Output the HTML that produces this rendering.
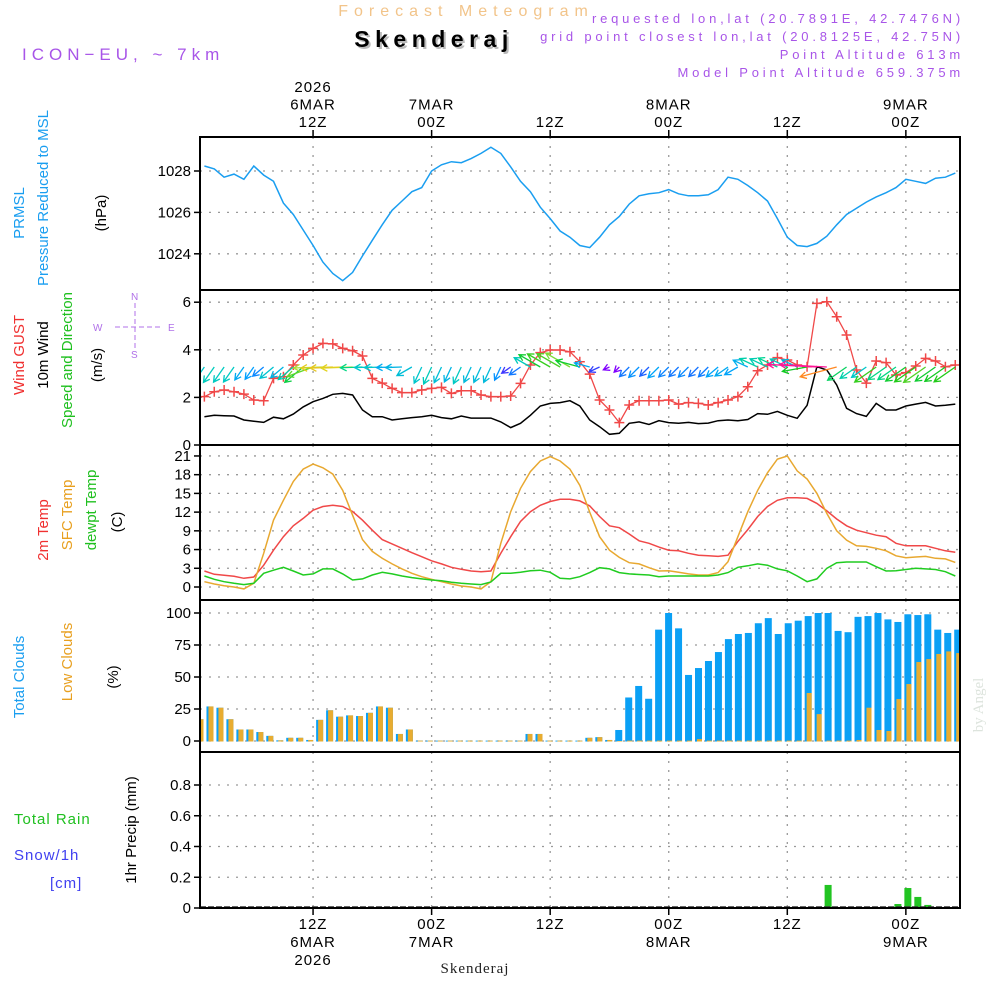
<!DOCTYPE html>
<html><head><meta charset="utf-8">
<style>
html,body{margin:0;padding:0;background:#fff;}
svg{display:block;font-family:"Liberation Sans",sans-serif;}
</style></head>
<body>
<svg id="chart" width="1000" height="1000" viewBox="0 0 1000 1000" xmlns="http://www.w3.org/2000/svg">
<defs>
<clipPath id="cp1"><rect x="200" y="137" width="760" height="153"/></clipPath>
<clipPath id="cp2"><rect x="200" y="290" width="760" height="155"/></clipPath>
<clipPath id="cp3"><rect x="200" y="445" width="760" height="155"/></clipPath>
<clipPath id="cp4"><rect x="200" y="600" width="760" height="152"/></clipPath>
<clipPath id="cp5"><rect x="200" y="752" width="760" height="156"/></clipPath>
</defs>
<text x="466" y="16" text-anchor="middle" font-size="16" fill="#f2c48a" letter-spacing="6">Forecast Meteogram</text>
<text x="436" y="49" text-anchor="middle" font-size="23" font-weight="bold" fill="#bbb" letter-spacing="5.5">Skenderaj</text>
<text x="434" y="47" text-anchor="middle" font-size="23" font-weight="bold" fill="#000" letter-spacing="5.5">Skenderaj</text>
<text x="22" y="60" font-size="17" fill="#a855e8" letter-spacing="5">ICON−EU, ~ 7km</text>
<g font-size="13" fill="#a855e8" text-anchor="end" letter-spacing="3.8">
<text x="964" y="23">requested lon,lat (20.7891E, 42.7476N)</text>
<text x="964" y="41">grid point closest lon,lat (20.8125E, 42.75N)</text>
<text x="964" y="59">Point Altitude 613m</text>
<text x="964" y="77">Model Point Altitude 659.375m</text>
</g>
<g id="grid"></g>
<g id="marks"></g>
<g id="frames" fill="none" stroke="#000" stroke-width="2">
<rect x="200" y="137" width="760" height="771"/>
<line x1="200" y1="290" x2="960" y2="290"/>
<line x1="200" y1="445" x2="960" y2="445"/>
<line x1="200" y1="600" x2="960" y2="600"/>
<line x1="200" y1="752" x2="960" y2="752"/>
</g>
<g id="axes" font-size="15" fill="#000"></g>
<g font-size="15">
<text transform="translate(24,213) rotate(-90)" text-anchor="middle" fill="#1a9ef0">PRMSL</text>
<text transform="translate(48,198) rotate(-90)" text-anchor="middle" fill="#1a9ef0">Pressure Reduced to MSL</text>
<text transform="translate(106,213) rotate(-90)" text-anchor="middle" fill="#000">(hPa)</text>
<text transform="translate(24,355) rotate(-90)" text-anchor="middle" fill="#f03030">Wind GUST</text>
<text transform="translate(48,355) rotate(-90)" text-anchor="middle" fill="#000">10m Wind</text>
<text transform="translate(72,360) rotate(-90)" text-anchor="middle" fill="#20c020">Speed and Direction</text>
<text transform="translate(102,365) rotate(-90)" text-anchor="middle" fill="#000">(m/s)</text>
<text transform="translate(48,530) rotate(-90)" text-anchor="middle" fill="#f03030">2m Temp</text>
<text transform="translate(72,515) rotate(-90)" text-anchor="middle" fill="#e8a020">SFC Temp</text>
<text transform="translate(96,510) rotate(-90)" text-anchor="middle" fill="#20c020">dewpt Temp</text>
<text transform="translate(122,522) rotate(-90)" text-anchor="middle" fill="#000">(C)</text>
<text transform="translate(24,677) rotate(-90)" text-anchor="middle" fill="#1a9ef0">Total Clouds</text>
<text transform="translate(72,662) rotate(-90)" text-anchor="middle" fill="#e8a020">Low Clouds</text>
<text transform="translate(118,677) rotate(-90)" text-anchor="middle" fill="#000">(%)</text>
<text transform="translate(136,830) rotate(-90)" text-anchor="middle" fill="#000">1hr Precip (mm)</text>
<text x="14" y="824" fill="#20c020" letter-spacing="1">Total  Rain</text>
<text x="14" y="860" fill="#4040f0" letter-spacing="1">Snow/1h</text>
<text x="50" y="888" fill="#4040f0" letter-spacing="1">[cm]</text>
</g>
<g fill="#b070e8" stroke="#b070e8" font-size="10">
<text x="131" y="300" stroke="none">N</text>
<text x="93" y="331" stroke="none">W</text>
<text x="168" y="331" stroke="none">E</text>
<text x="131" y="358" stroke="none">S</text>
<line x1="115" y1="327" x2="160" y2="327" stroke-dasharray="5,3" stroke-width="1"/>
<line x1="135" y1="303" x2="135" y2="348" stroke-dasharray="5,3" stroke-width="1"/>
</g>
<text transform="translate(983,705) rotate(-90)" text-anchor="middle" font-size="15" fill="#dde4dd" font-family="Liberation Serif,serif">by Angel</text>
<text x="475" y="973" text-anchor="middle" font-size="15" fill="#222" font-family="Liberation Serif,serif" letter-spacing="1">Skenderaj</text>
</svg>
<script>
const hours = Array.from({length:77},(_,i)=>i+1);
const pressure = [1028.24,1028.1,1027.7,1027.85,1027.6,1028.24,1027.8,1027.5,1026.45,1025.9,1025.15,1024.4,1023.6,1023.05,1022.7,1023.1,1023.9,1024.65,1025.4,1026.1,1026.55,1027.0,1027.2,1028.0,1028.3,1028.45,1028.4,1028.6,1028.85,1029.15,1028.85,1028.2,1027.5,1027.0,1026.25,1025.7,1025.1,1024.8,1024.4,1024.3,1024.8,1025.4,1025.8,1026.4,1026.8,1026.9,1026.95,1027.1,1026.9,1026.8,1026.8,1026.85,1027.1,1027.7,1027.6,1027.3,1026.95,1026.55,1025.7,1024.8,1024.4,1024.35,1024.5,1024.85,1025.4,1025.9,1026.2,1026.5,1026.75,1026.95,1027.2,1027.6,1027.5,1027.4,1027.65,1027.7,1027.9];
const wind10m = [1.19,1.25,1.23,1.22,1.05,1.0,0.95,1.17,1.1,1.3,1.6,1.82,1.96,2.13,2.17,2.1,1.47,1.19,1.19,1.05,1.1,1.15,1.19,1.25,1.15,1.1,1.22,1.13,1.13,1.13,0.97,0.73,0.91,1.25,1.64,1.75,1.78,1.86,1.64,1.05,0.77,0.45,0.49,0.91,0.97,0.86,1.02,0.94,0.91,0.95,0.9,0.92,1.02,1.05,1.02,1.07,1.32,1.29,1.41,1.25,1.12,1.67,3.29,3.15,2.52,1.54,1.32,1.2,1.75,1.47,1.47,1.64,1.72,1.79,1.64,1.67,1.72];
const gust = [2.03,2.24,2.31,2.24,2.14,1.89,1.86,2.8,2.87,3.36,3.78,4.06,4.27,4.25,4.06,3.96,3.74,2.8,2.6,2.38,2.2,2.2,2.31,2.38,2.42,2.17,2.28,2.28,2.1,2.03,2.03,2.06,2.59,3.36,3.88,3.99,3.99,3.92,3.5,2.98,1.89,1.47,0.94,1.68,1.86,1.86,1.86,1.89,1.72,1.78,1.75,1.68,1.78,1.89,2.03,2.45,3.12,3.36,3.67,3.57,3.36,3.29,5.95,6.02,5.39,4.62,3.15,2.6,3.53,3.46,2.94,3.04,3.32,3.64,3.53,3.29,3.36];
const windDir = [35,35,35,35,35,35,50,50,50,50,50,70,88,88,88,88,88,88,88,88,88,60,25,25,25,25,25,25,25,25,25,55,55,120,120,120,120,120,105,105,65,65,45,45,45,45,45,45,45,45,45,45,50,55,60,115,115,115,115,115,115,80,93,93,75,55,55,55,55,55,55,55,55,55,55,55,55];
const temp2m = [2.56,2.03,1.87,1.71,1.39,1.6,3.5,5.9,8.06,9.8,11.0,12.3,12.9,13.1,12.9,12.1,10.7,9.1,7.6,6.9,6.2,5.5,4.86,4.2,3.7,3.15,2.83,2.56,2.45,2.56,5.4,8.06,10.5,12.07,13.1,13.7,14.05,14.05,13.8,13.0,11.3,9.8,9.5,8.5,7.4,7.0,6.4,5.9,5.8,5.4,5.1,5.0,4.9,5.1,7.3,9.2,11.3,12.9,13.9,14.3,14.3,14.2,13.4,12.2,10.9,9.8,9.1,8.7,8.3,8.06,7.0,6.6,6.6,6.6,6.2,5.8,5.56];
const tempSfc = [0.85,0.48,0.2,0,-0.3,0.6,5.4,10.7,13.9,16.9,18.9,19.7,19.1,18.1,15.5,11.5,7.6,5.7,4.6,3.7,2.9,2.2,1.65,1.23,0.85,0.48,0.16,0,-0.3,0.85,7.0,12.07,15.8,18.5,20.2,20.9,20.2,18.9,16.3,12.0,8.06,5.9,4.75,3.9,3.7,3.1,2.56,2.6,2.35,2.1,1.92,1.92,2.3,4.05,8.06,12.07,15.5,18.3,20.5,21.0,18.6,17.3,15.0,11.8,9.0,7.5,6.6,6.5,6.2,5.8,5.0,4.7,4.8,4.9,4.6,4.5,3.95];
const dewpt = [1.76,1.23,0.85,0.59,0.38,0.59,2.2,2.7,3.15,2.56,1.92,2.1,2.9,2.9,2.1,1.12,1.3,1.92,2.35,2.1,1.76,1.5,1.3,1.12,1.0,0.75,0.59,0.48,0.38,0.8,2.2,2.2,2.35,2.6,2.7,2.35,1.4,1.3,1.65,2.3,3.1,2.9,2.3,2.1,2.0,1.92,1.65,1.76,1.76,1.76,1.76,1.76,1.92,2.3,3.15,3.4,3.7,3.5,2.9,2.6,1.76,0.85,1.3,3.0,3.9,4.0,4.0,4.0,3.25,2.56,2.6,2.8,3.0,2.9,2.8,2.45,1.76];
const totalClouds = [17,27,26,17,9,9,7,4,0.5,2.5,2.5,0.8,16.5,24,19,20,19.5,22,27,26,5.5,9,0.3,0.3,0.3,0.3,0.3,0.3,0.3,0.3,0.3,0.3,0.3,5.5,5.5,0.3,0.3,0.3,0.3,2.5,3,0.8,8.6,34,43,33,87,100,88,51.6,57,62.5,69.5,79.6,83.6,84.4,92,96,83.6,92,94,97.6,100,100,86,85,97,97.6,100,95,93,99,98.4,99,87,84.4,87];
const lowClouds = [17,27,26,17,9,9,7,4,0.5,2.5,2.5,0.8,16.5,24,19,20,19.5,22,27,26,5.5,9,0.3,0.3,0.3,0.3,0.3,0.3,0.3,0.3,0.3,0.3,0.3,5.5,5.5,0.3,0.3,0.3,0.3,2.5,3,0.8,0,0.3,0.3,0.3,0.3,0.3,0.3,0.3,1.5,0.3,0.3,0.3,0.3,0.3,0.3,0.3,0.3,0.3,0.3,37.5,21,0.3,0.3,0.3,0.8,26,8.6,7.8,32.8,44.5,61.7,64,68,70,68.7];
const precip = [0,0,0,0,0,0,0,0,0,0,0,0,0,0,0,0,0,0,0,0,0,0,0,0,0,0,0,0,0,0,0,0,0,0,0,0,0,0,0,0,0,0,0,0,0,0,0,0,0,0,0,0,0,0,0,0,0,0,0,0,0,0,0.005,0.15,0,0,0,0,0,0,0.026,0.13,0.072,0.02,0,0,0];
const pTicks = [1024,1026,1028];
const wTicks = [0,2,4,6];
const tTicks = [0,3,6,9,12,15,18,21];
const cTicks = [0,25,50,75,100];
const rTicks = [0,0.2,0.4,0.6,0.8];
const gridHours = [12,24,36,48,60,72];
const topLabels = [["2026","6MAR","12Z"],["7MAR","00Z"],["12Z"],["8MAR","00Z"],["12Z"],["9MAR","00Z"]];
const bottomLabels = [["12Z","6MAR","2026"],["00Z","7MAR"],["12Z"],["00Z","8MAR"],["12Z"],["00Z","9MAR"]];

const NS="http://www.w3.org/2000/svg";
const xs = h => 194.5 + h*9.88;
const xb = k => 200 + k*9.97;
const yP = v => 171 - (v-1028)*20.7;
const yW = v => 445 - v*23.8;
const yT = v => 587 - v*6.24;
const yC = v => 741 - v*1.28;
const yR = v => 908 - v*153.75;
function el(tag, attrs, parent){const e=document.createElementNS(NS,tag);for(const k in attrs)e.setAttribute(k,attrs[k]);parent.appendChild(e);return e;}
const grid=document.getElementById('grid'), marks=document.getElementById('marks'), axes=document.getElementById('axes');
const panels=[{t:137,b:290,ticks:pTicks,y:yP,fmt:v=>v},{t:290,b:445,ticks:wTicks,y:yW,fmt:v=>v},{t:445,b:600,ticks:tTicks,y:yT,fmt:v=>v},{t:600,b:752,ticks:cTicks,y:yC,fmt:v=>v},{t:752,b:908,ticks:rTicks,y:yR,fmt:v=>v===0?"0":v.toFixed(1)}];
panels.forEach((p,i)=>{
  p.ticks.forEach(v=>{
    const y=p.y(v);
    const g=el('line',{x1:200,x2:960,y1:y,y2:y,stroke:'#999','stroke-dasharray':'2,7','stroke-width':1.3},grid);
    
    
    const tk=el('line',{x1:194,x2:200,y1:y,y2:y,stroke:'#000','stroke-width':1.5},axes);
    
    
    const t=el('text',{x:191,y:y+5,'text-anchor':'end'},axes);
    t.textContent=p.fmt(v);
    
    
  });
  gridHours.forEach(h=>{
    const g=el('line',{x1:xs(h),x2:xs(h),y1:p.t,y2:p.b,stroke:'#999','stroke-dasharray':'2,7','stroke-width':1.3},grid);
    
    
  });
});
gridHours.forEach((h,i)=>{
  const x=xs(h);
  const t1=el('line',{x1:x,x2:x,y1:130,y2:137,stroke:'#000','stroke-width':1.5},axes);
  
  
  const t2=el('line',{x1:x,x2:x,y1:908,y2:915,stroke:'#000','stroke-width':1.5},axes);
  
  
  const tl=topLabels[i];
  tl.forEach((s,j)=>{
    const t=el('text',{x:x,y:127-(tl.length-1-j)*17.5,'text-anchor':'middle','letter-spacing':'1'},axes);
    t.textContent=s;
    
    
  });
  bottomLabels[i].forEach((s,j)=>{
    const t=el('text',{x:x,y:929+j*18,'text-anchor':'middle','letter-spacing':'1'},axes);
    t.textContent=s;
    
    
  });
});
function line(vals,yf,color,clip,name,w){
  const d=vals.map((v,i)=>(i?'L':'M')+xs(hours[i]).toFixed(1)+','+yf(v).toFixed(1)).join('');
  const p=el('path',{d:d,fill:'none',stroke:color,'stroke-width':w||1.5,'clip-path':'url(#'+clip+')'},marks);
  
  
  return p;
}
line(pressure,yP,'#1a9ef0','cp1','pressure-line');
line(wind10m,yW,'#000','cp2','wind10m-line');
line(gust,yW,'#f04848','cp2','gust-line',1.3);
gust.forEach((v,i)=>{
  const x=xs(hours[i]),y=yW(v);
  const m=el('path',{d:`M${x-5},${y}H${x+5}M${x},${y-5}V${y+5}`,stroke:'#f04848','stroke-width':1.5},marks);
  
  
});
function spdColor(s){
  const stops=[[0.5,[128,0,255]],[0.8,[40,70,255]],[1.0,[0,160,255]],[1.2,[0,200,200]],[1.45,[0,215,140]],[1.7,[20,200,20]],[1.9,[150,225,60]],[2.1,[225,210,30]],[2.5,[255,140,30]],[3.1,[255,20,150]]];
  if(s<=stops[0][0])return 'rgb('+stops[0][1]+')';
  for(let i=1;i<stops.length;i++){if(s<=stops[i][0]){const a=stops[i-1],b=stops[i],f=(s-a[0])/(b[0]-a[0]);return 'rgb('+a[1].map((c,j)=>Math.round(c+(b[1][j]-c)*f)).join(',')+')';}}
  return 'rgb('+stops[stops.length-1][1]+')';
}
windDir.forEach((dir,i)=>{
  const s=wind10m[i],L=15*s,r=dir*Math.PI/180;
  const ux=-Math.sin(r),uy=Math.cos(r);
  const x0=xs(hours[i]),y0=367,x1=x0+ux*L,y1=y0+uy*L;
  const a=Math.atan2(uy,ux),hl=7;
  const h1x=x1-hl*Math.cos(a-0.5),h1y=y1-hl*Math.sin(a-0.5),h2x=x1-hl*Math.cos(a+0.5),h2y=y1-hl*Math.sin(a+0.5);
  const p=el('path',{d:`M${x0},${y0}L${x1},${y1}M${h1x},${h1y}L${x1},${y1}L${h2x},${h2y}`,fill:'none',stroke:spdColor(s),'stroke-width':1.3,'clip-path':'url(#cp2)'},marks);
  
  
});
line(temp2m,yT,'#f04848','cp3','temp-2m-line');
line(tempSfc,yT,'#e8a830','cp3','temp-sfc-line');
line(dewpt,yT,'#20cc20','cp3','dewpoint-line');
totalClouds.forEach((v,k)=>{
  const c=xb(k);
  const b=el('rect',{x:c-3.5,y:yC(v),width:7,height:yC(0)-yC(v)+0.5,fill:'#0aa0f5','clip-path':'url(#cp4)'},marks);
  
  
  const lv=lowClouds[k];
  const o=el('rect',{x:c-1.5,y:yC(lv),width:5,height:yC(0)-yC(lv)+0.5,fill:'#e8ac30','clip-path':'url(#cp4)'},marks);
  
  
});
precip.forEach((v,k)=>{
  if(v<=0)return;
  const c=xb(k);
  const b=el('rect',{x:c-3.5,y:yR(v),width:7,height:yR(0)-yR(v),fill:'#22c422','clip-path':'url(#cp5)'},marks);
  
  
});
const zl=el('line',{x1:200,x2:960,y1:907,y2:907,stroke:'#333','stroke-width':1.5,'stroke-dasharray':'6,2'},marks);


</script>
</body></html>
